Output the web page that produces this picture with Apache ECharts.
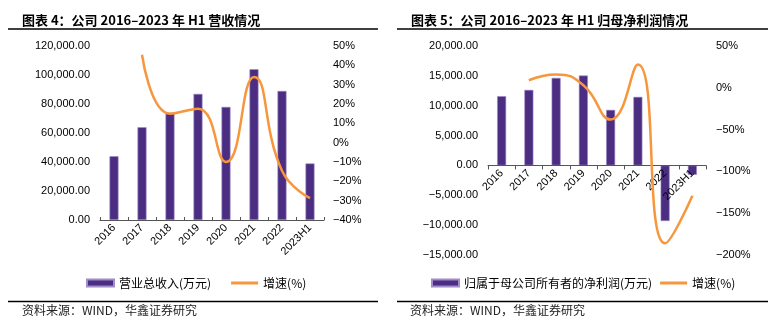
<!DOCTYPE html>
<html>
<head>
<meta charset="utf-8">
<script src="https://cdn.jsdelivr.net/npm/echarts@6/dist/echarts.min.js"></script>
<style>
html,body{margin:0;padding:0;background:#fff;}
#c{width:768px;height:326px;}
</style>
</head>
<body>
<div id="c"></div>
<script>
// Data
const categories = ['2016','2017','2018','2019','2020','2021','2022','2023H1'];
const revenue = [44000, 64000, 74000, 87000, 78000, 104000, 89000, 39000];
const revenueGrowth = ['-', 45.5, 15, 17.6, -10, 34, -14.5, -28.7];
const netProfit = [11600, 12650, 14660, 15050, 9300, 11480, -9310, -1560];
const profitGrowth = ['-', 9, 16, 3, -38, 28, -186, -129];
const leftTicks = [0, 120000, 20000];
const leftPctTicks = [-40, 50, 10];
const rightTicks = [-15000, 20000, 5000];
const rightPctTicks = [-200, 50, 50];

const titles = ['图表 4：公司 2016–2023 年 H1 营收情况', '图表 5：公司 2016–2023 年 H1 归母净利润情况'];
const barNames = ['营业总收入(万元)', '归属于母公司所有者的净利润(万元)'];
const lineName = '增速(%)';
const sourceText = '资料来源：WIND，华鑫证券研究';

const CJK = '"Noto Sans CJK SC", "Liberation Sans", sans-serif';
const LAT = '"Liberation Sans", Arial, sans-serif';
const PURPLE = '#4b2d82';
const ORANGE = '#f7963c';

function numFmt(v){
  const s = Math.abs(v).toFixed(2);
  const [i, d] = s.split('.');
  const ii = i.replace(/\B(?=(\d{3})+(?!\d))/g, ',');
  return (v < 0 ? '−' : '') + ii + '.' + d;
}
function pctFmt(v){ return (v < 0 ? '−' + Math.abs(v) : v) + '%'; }

const chart = echarts.init(document.getElementById('c'), null, {renderer:'canvas'});

const axisLabelBase = {color:'#000', fontFamily: LAT, fontSize: 11};
const lineIcon = 'path://M0,0H27V3H0Z';

// right chart geometry: the category axis is drawn where the left value axis is zero
const R_TOP = 46, R_H = 209;
const zeroY = R_TOP + R_H * rightTicks[1] / (rightTicks[1] - rightTicks[0]);

const option = {
  animation: false,
  backgroundColor: '#fff',
  title: [
    {text: titles[0], left: 17, top: 9, textStyle:{fontFamily: CJK, fontSize: 13, fontWeight:'bold', color:'#000'}},
    {text: titles[1], left: 406, top: 9, textStyle:{fontFamily: CJK, fontSize: 13, fontWeight:'bold', color:'#000'}},
    {text: sourceText, left: 17, top: 299, textStyle:{fontFamily: CJK, fontSize: 12, fontWeight:'normal', color:'#222'}},
    {text: sourceText, left: 405, top: 299, textStyle:{fontFamily: CJK, fontSize: 12, fontWeight:'normal', color:'#222'}}
  ],
  graphic: [
    {type:'line', shape:{x1:8, y1:29, x2:378, y2:29}, style:{stroke:'#000', lineWidth:1.5}},
    {type:'line', shape:{x1:397, y1:29, x2:768, y2:29}, style:{stroke:'#000', lineWidth:1.5}},
    {type:'line', shape:{x1:8, y1:301.5, x2:378, y2:301.5}, style:{stroke:'#000', lineWidth:1.5}},
    {type:'line', shape:{x1:397, y1:301.5, x2:768, y2:301.5}, style:{stroke:'#000', lineWidth:1.5}}
  ],
  legend: [
    {left: 86, top: 277, padding: 0, itemWidth: 27, itemHeight: 7, itemGap: 20,
     textStyle:{fontFamily: CJK, fontSize: 12, color:'#000'},
     data: [{name: barNames[0], icon:'rect'},
            {name: lineName, icon: lineIcon, itemStyle:{color: ORANGE}}]},
    {left: 431, top: 277, padding: 0, itemWidth: 27, itemHeight: 7, itemGap: 8,
     textStyle:{fontFamily: CJK, fontSize: 12, color:'#000'},
     data: [{name: barNames[1], icon:'rect'},
            {name: lineName, icon: lineIcon, itemStyle:{color: ORANGE}}]}
  ],
  grid: [
    {left: 100, top: 46, width: 224, height: 174},
    {left: 488, top: R_TOP, width: 218, height: R_H},
    {left: 488, top: R_TOP, width: 218, height: zeroY - R_TOP}
  ],
  xAxis: [
    {type:'category', gridIndex:0, data: categories, z: 5,
     axisLine:{lineStyle:{color:'#555', width:1}},
     axisTick:{show:true, inside:true, length:3, lineStyle:{color:'#555'}},
     axisLabel:Object.assign({}, axisLabelBase, {rotate:45, interval:0, margin:6})},
    {type:'category', gridIndex:1, data: categories, show:false},
    {type:'category', gridIndex:2, data: categories, z: 5,
     axisLine:{lineStyle:{color:'#555', width:1}},
     axisTick:{show:true, length:4, lineStyle:{color:'#555'}},
     axisLabel:Object.assign({}, axisLabelBase, {rotate:45, interval:0, margin:6})}
  ],
  yAxis: [
    {type:'value', gridIndex:0, min:leftTicks[0], max:leftTicks[1], interval:leftTicks[2],
     splitLine:{show:false}, axisLine:{show:false}, axisTick:{show:false},
     axisLabel:Object.assign({}, axisLabelBase, {margin:10, formatter:numFmt})},
    {type:'value', gridIndex:0, position:'right', min:leftPctTicks[0], max:leftPctTicks[1], interval:leftPctTicks[2],
     splitLine:{show:false}, axisLine:{show:false}, axisTick:{show:false},
     axisLabel:Object.assign({}, axisLabelBase, {margin:9, formatter:pctFmt})},
    {type:'value', gridIndex:1, min:rightTicks[0], max:rightTicks[1], interval:rightTicks[2],
     splitLine:{show:false}, axisLine:{show:false}, axisTick:{show:false},
     axisLabel:Object.assign({}, axisLabelBase, {margin:10, formatter:numFmt})},
    {type:'value', gridIndex:1, position:'right', min:rightPctTicks[0], max:rightPctTicks[1], interval:rightPctTicks[2],
     splitLine:{show:false}, axisLine:{show:false}, axisTick:{show:false},
     axisLabel:Object.assign({}, axisLabelBase, {margin:10, formatter:pctFmt})},
    {type:'value', gridIndex:2, min:0, max:1, show:false}
  ],
  series: [
    {name: barNames[0], type:'bar', xAxisIndex:0, yAxisIndex:0, data: revenue, barWidth: 9,
     itemStyle:{color: PURPLE, borderColor:'#a08cc8', borderWidth:0.6}},
    {name: lineName, type:'line', xAxisIndex:0, yAxisIndex:1, data: revenueGrowth, smooth:0.5,
     symbol:'none', lineStyle:{color: ORANGE, width:2.5}, itemStyle:{color: ORANGE}},
    {name: barNames[1], type:'bar', xAxisIndex:1, yAxisIndex:2, data: netProfit, barWidth: 9,
     itemStyle:{color: PURPLE, borderColor:'#a08cc8', borderWidth:0.6}},
    {name: lineName, type:'line', xAxisIndex:1, yAxisIndex:3, data: profitGrowth, smooth:0.5, z: 6,
     symbol:'none', lineStyle:{color: ORANGE, width:2.5}, itemStyle:{color: ORANGE}}
  ]
};
chart.setOption(option);
</script>
</body>
</html>
